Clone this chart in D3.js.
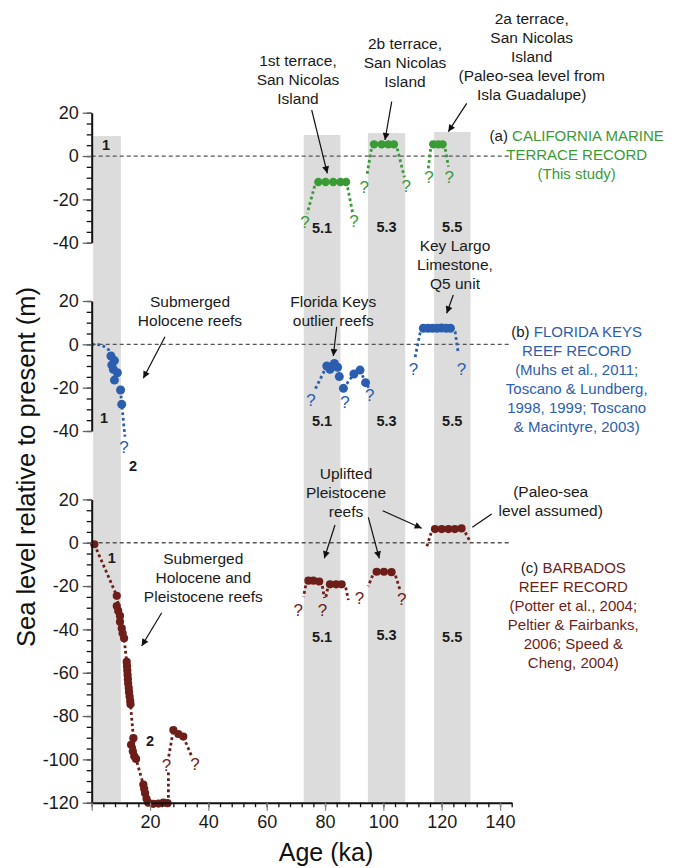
<!DOCTYPE html>
<html>
<head>
<meta charset="utf-8">
<script src="https://cdn.jsdelivr.net/npm/d3@7"></script>
<style>
  body { margin: 0; background: #fff; }
  text { font-family: "Liberation Sans", Arial, Helvetica, sans-serif; }
</style>
</head>
<body>
<div id="chart"></div>
<script>

// ---- data (ka, m) ----
var xDomain = [0, 144];
var panelDomains = [[-40, 20], [-40, 20], [-120, 20]];

// MIS stage bands; top given in m on the panel (a) scale
var bandNames = ["1", "5.1", "5.3", "5.5"];
var bandStart = [0.5, 72.7, 94.7, 117.4];
var bandEnd = [10, 85.3, 107.5, 129.9];
var bandTop = [9.2, 9.7, 10.6, 11.1];

// (a) California marine terraces
var caliDots = [[77.7, -12], [80.2, -12], [82.8, -12], [85.3, -12], [87.2, -12],
  [96.8, 5.4], [99.4, 5.4], [101.7, 5.4], [103.6, 5.4],
  [117.1, 5.4], [118.8, 5.4], [120.3, 5.4]];
var caliLines = [
  [[77.7, -12], [76.6, -13], [73.9, -26.5]],
  [[87.2, -12], [87.6, -13.5], [89.5, -26.5]],
  [[96.8, 5.4], [96, 4.3], [94.3, -9.5]],
  [[103.6, 5.4], [104.6, 4.3], [107.2, -9.8]],
  [[117.1, 5.4], [116.3, 4.3], [115.4, -5.7]],
  [[120.3, 5.4], [121.1, 4.3], [122.3, -4.9]]
];
var caliQs = [[73.1, -30.3], [89.9, -30], [93.4, -14.2], [107.8, -13.8], [115.6, -9.8], [122.6, -9.5]];

// (b) Florida Keys reefs
var floridaDots = [[6.6, -5.4], [7.8, -7.5], [6.9, -9.5], [7.4, -11.5], [8.8, -13.1], [7.8, -16.5], [9.9, -21.1], [10.3, -27.7],
  [80.6, -10], [81.7, -11.5], [83.2, -8.8], [84.3, -10.6], [84.9, -14.9], [86.3, -20.3], [89.9, -13.7], [92, -11.9], [93.9, -17.7],
  [113.7, 7.4], [115.3, 7.4], [116.8, 7.4], [118.4, 7.4], [119.9, 7.5], [121.5, 7.4], [123, 7.4]];
var floridaLines = [
  [[0, 0], [3.5, -0.3], [5.8, -2.5], [6.6, -5.4]],
  [[9.9, -21.1], [10.3, -27.7], [11.4, -42.6]],
  [[80.6, -10], [76.3, -21.5]],
  [[86.3, -20.3], [89.9, -13.7]],
  [[92, -11.9], [93.9, -17.7], [95.2, -20.5]],
  [[113.7, 7.4], [112.8, 6.6], [110.8, -6.5]],
  [[123, 7.4], [124.6, 5.8], [125.7, -4.2]]
];
var floridaQs = [[11.1, -47.5], [75.2, -25.5], [86.8, -26.5], [95.3, -23.5], [110.3, -11.3], [126.8, -11.3]];

// (c) Barbados reefs
var barbadosDots = [[0.9, -0.7],
  [8.6, -24.5], [8.6, -29.2], [9.1, -31.5], [9.7, -33.8], [9.7, -36.5], [10.3, -39.5], [10.6, -41.8], [11.1, -44.1],
  [12.0, -55], [12.1, -57], [12.2, -59], [12.3, -61], [12.4, -63], [12.5, -65], [12.7, -67], [12.8, -69], [13.0, -71], [13.2, -73], [13.3, -74.5],
  [14.3, -90.2], [13.5, -93.3], [14.1, -96.3], [14.6, -98.6], [15.2, -99.8],
  [17.7, -111.6], [18, -113.6], [18.3, -115.6], [18.8, -118.2], [19.4, -120],
  [21.1, -120.5], [22.9, -120.4], [24.6, -120], [26, -120.2],
  [28, -86.5], [29.7, -88.3], [31.4, -89.5],
  [74.3, -17.5], [76, -17.5], [78, -17.9], [81.7, -19.2], [83.8, -19.2], [85.7, -19.2],
  [97.7, -13.4], [100.2, -13.4], [102.8, -13.6],
  [117.7, 6.3], [120, 6.3], [122.3, 6.3], [124.5, 6.3], [126.8, 6.6]];
var barbadosLines = [
  [[0.9, -0.7], [8.6, -24.5], [11.1, -44.1], [12.0, -55], [13.3, -74.5], [14.3, -90.2], [15.2, -99.8], [17.7, -111.6], [19.4, -120], [26, -120.2], [26.3, -120], [26.3, -105.5]],
  [[26.4, -98.7], [28, -86.5], [31.4, -89.5], [34.3, -98.7]],
  [[74.3, -17.5], [73.5, -19], [72.6, -25]],
  [[78, -17.9], [79, -19.5], [79.8, -25.5]],
  [[80.3, -25], [81.1, -19.8], [81.7, -19.2]],
  [[85.7, -19.2], [87, -20], [88, -26.4]],
  [[97.7, -13.4], [96.5, -14.5], [94.8, -20.1]],
  [[102.8, -13.6], [104, -14.5], [105.9, -22.6]],
  [[117.7, 6.3], [116.5, 5], [114.8, -2.1]],
  [[126.8, 6.6], [128, 5], [129.9, 0]]
];
var barbadosQs = [[25.6, -102.5], [35.4, -102], [70.8, -31], [79.1, -31], [91.8, -25.7], [106.3, -26.1]];

// stage numbers written inside the plots: [panel, text, ka, m of baseline]
var stageLabels = [
  [0, "1", 4.9, 2.8], [0, "5.1", 79, -35.5], [0, "5.3", 101.1, -34.9], [0, "5.5", 123.6, -34.9],
  [1, "1", 4.2, -36.5], [1, "2", 14.2, -58.5], [1, "5.1", 79, -37.9], [1, "5.3", 101.1, -37.9], [1, "5.5", 123.6, -37.9],
  [2, "1", 6.9, -9.5], [2, "2", 20, -93.8], [2, "5.1", 79, -45.6], [2, "5.3", 101.1, -44.7], [2, "5.5", 123.6, -45.6]
];

var green = "#3a9a36", blue = "#2c5eb0", red = "#6e1e19";

// ---- layout ----
var svgWidth = 683;
var svgHeight = 868;
var plotLeft = 91.7, plotRight = 511.7;
var panelRanges = [[242.7, 112.7], [431, 301], [802.7, 499.4]];
var plotBottom = panelRanges[2][0];

var svg = d3.select("#chart")
  .append("svg")
  .attr("width", svgWidth)
  .attr("height", svgHeight);

var defs = svg.append("defs");
defs.append("marker")
  .attr("id", "head")
  .attr("viewBox", "0 0 10 10")
  .attr("refX", 10).attr("refY", 5)
  .attr("markerWidth", 9).attr("markerHeight", 7)
  .attr("markerUnits", "userSpaceOnUse")
  .attr("orient", "auto")
  .append("path")
  .attr("d", "M0,0 L10,5 L0,10 z")
  .attr("fill", "#111");

var x = d3.scaleLinear().domain(xDomain).range([plotLeft, plotRight]);
var yScales = panelDomains.map(function(d, i) {
  return d3.scaleLinear().domain(d).range(panelRanges[i]);
});

// grey stage bands
svg.append("g").selectAll("rect")
  .data(bandNames)
  .enter()
  .append("rect")
  .attr("x", (d, i) => x(bandStart[i]))
  .attr("width", (d, i) => x(bandEnd[i]) - x(bandStart[i]))
  .attr("y", (d, i) => yScales[0](bandTop[i]))
  .attr("height", (d, i) => plotBottom - yScales[0](bandTop[i]))
  .attr("fill", "#dcdcdc");

// present-day sea level
yScales.forEach(function(y) {
  svg.append("line")
    .attr("x1", x(0)).attr("x2", x(xDomain[1]))
    .attr("y1", y(0)).attr("y2", y(0))
    .attr("stroke", "#555")
    .attr("stroke-width", 1.3)
    .attr("stroke-dasharray", "4,3");
});

var series = [
  { panel: 0, dots: caliDots, lines: caliLines, qs: caliQs, color: green, r: 4.2 },
  { panel: 1, dots: floridaDots, lines: floridaLines, qs: floridaQs, color: blue, r: 4.5 },
  { panel: 2, dots: barbadosDots, lines: barbadosLines, qs: barbadosQs, color: red, r: 4.1 }
];

series.forEach(function(s) {
  var y = yScales[s.panel];
  var line = d3.line().x(d => x(d[0])).y(d => y(d[1]));
  var g = svg.append("g");

  g.selectAll("path")
    .data(s.lines)
    .enter()
    .append("path")
    .attr("d", line)
    .attr("fill", "none")
    .attr("stroke", s.color)
    .attr("stroke-width", 2.8)
    .attr("stroke-dasharray", "2.8,2.8");

  g.selectAll("circle")
    .data(s.dots)
    .enter()
    .append("circle")
    .attr("cx", d => x(d[0]))
    .attr("cy", d => y(d[1]))
    .attr("r", s.r)
    .attr("fill", s.color);

  g.selectAll("text")
    .data(s.qs)
    .enter()
    .append("text")
    .attr("x", d => x(d[0]))
    .attr("y", d => y(d[1]) + 6)
    .attr("text-anchor", "middle")
    .attr("font-size", "17px")
    .attr("fill", s.color)
    .text("?");
});

// stage numbers
svg.append("g").selectAll("text")
  .data(stageLabels)
  .enter()
  .append("text")
  .attr("x", d => x(d[2]))
  .attr("y", d => yScales[d[0]](d[3]))
  .attr("text-anchor", "middle")
  .attr("font-size", "14.5px")
  .attr("font-weight", "bold")
  .attr("fill", "#1a1a1a")
  .text(d => d[1]);

// y axes, one per panel
yScales.forEach(function(y) {
  var dom = y.domain();
  var ax = svg.append("g").attr("transform", `translate(${plotLeft},0)`);
  ax.append("g")
    .call(d3.axisLeft(y).tickValues(d3.range(dom[0], dom[1] + 1, 5)).tickSize(5).tickSizeOuter(0).tickFormat(""))
    .call(g => g.select(".domain").remove())
    .selectAll("line").attr("stroke", "#111").attr("stroke-width", 1.3);
  ax.append("g")
    .call(d3.axisLeft(y).tickValues(d3.range(dom[0], dom[1] + 1, 20)).tickSize(9).tickSizeOuter(0).tickPadding(4).tickFormat(d => d))
    .call(g => g.select(".domain").attr("stroke", "#111").attr("stroke-width", 2))
    .call(g => g.selectAll(".tick line").attr("stroke", "#666").attr("stroke-width", 1.3))
    .call(g => g.selectAll("text").attr("font-size", "18px").attr("fill", "#1a1a1a")
      .style("font-family", '"Liberation Sans", Arial, sans-serif'));
});

// x axis
var xAxisG = svg.append("g").attr("transform", `translate(0,${plotBottom})`);
xAxisG.append("g")
  .call(d3.axisBottom(x).tickValues(d3.range(0, 145, 4)).tickSize(4.5).tickSizeOuter(0).tickFormat(""))
  .call(g => g.select(".domain").remove())
  .selectAll("line").attr("stroke", "#111").attr("stroke-width", 1.3);
xAxisG.append("g")
  .call(d3.axisBottom(x).tickValues(d3.range(0, 141, 20)).tickSize(8).tickSizeOuter(0).tickPadding(4.5)
    .tickFormat(d => d === 0 ? "" : d))
  .call(g => g.select(".domain").attr("stroke", "#111").attr("stroke-width", 2))
  .call(g => g.selectAll(".tick line").attr("stroke", "#888").attr("stroke-width", 1.3))
  .call(g => g.selectAll("text").attr("font-size", "18px").attr("fill", "#1a1a1a")
    .style("font-family", '"Liberation Sans", Arial, sans-serif'));

// axis titles
svg.append("text")
  .attr("transform", "translate(35,467) rotate(-90)")
  .attr("text-anchor", "middle")
  .attr("font-size", "25.5px")
  .attr("fill", "#111")
  .text("Sea level relative to present (m)");

svg.append("text")
  .attr("x", 326)
  .attr("y", 860.5)
  .attr("text-anchor", "middle")
  .attr("font-size", "25px")
  .attr("fill", "#111")
  .text("Age (ka)");

// annotations
function block(lines, cx, y0, size, color) {
  var t = svg.append("text")
    .attr("text-anchor", "middle")
    .attr("font-size", size)
    .attr("fill", color || "#1a1a1a");
  lines.forEach(function(l, i) {
    var ts = t.append("tspan").attr("x", cx).attr("y", y0 + i * 19);
    if (Array.isArray(l)) {
      ts.append("tspan").attr("fill", "#1a1a1a").text(l[0]);
      ts.append("tspan").text(l[1]);
    } else {
      ts.text(l);
    }
  });
}

block(["1st terrace,", "San Nicolas", "Island"], 298, 65.5, "15.5px");
block(["2b terrace,", "San Nicolas", "Island"], 405, 49, "15.5px");
block(["2a terrace,", "San Nicolas", "Island", "(Paleo-sea level from", "Isla Guadalupe)"], 531.7, 24, "15.5px");
block([["(a) ", "CALIFORNIA MARINE"], "TERRACE RECORD", "(This study)"], 576.7, 140.5, "15px", green);

block(["Submerged", "Holocene reefs"], 190, 307, "15.5px");
block(["Florida Keys", "outlier reefs"], 333.3, 307, "15.5px");
block(["Key Largo", "Limestone,", "Q5 unit"], 455, 250.5, "15.5px");
block([["(b) ", "FLORIDA KEYS"], "REEF RECORD", "(Muhs et al., 2011;", "Toscano & Lundberg,", "1998, 1999; Toscano", "& Macintyre, 2003)"],
  576.7, 337, "15px", blue);

block(["Submerged", "Holocene and", "Pleistocene reefs"], 203.3, 564, "15.5px");
block(["Uplifted", "Pleistocene", "reefs"], 346, 479, "15.5px");
block(["(Paleo-sea", "level assumed)"], 550.7, 497, "15.5px");
block([["(c) ", "BARBADOS"], "REEF RECORD", "(Potter et al., 2004;", "Peltier & Fairbanks,", "2006; Speed &", "Cheng, 2004)"],
  573.3, 573, "15px", red);

var arrows = [
  [311.7, 110, 327.3, 173.3, true],
  [391.7, 101.7, 385, 140, true],
  [466.7, 103.3, 448.3, 131.7, true],
  [165, 336.7, 143.3, 378.3, true],
  [336.7, 326.7, 333.3, 356, true],
  [453.3, 295, 446.7, 313.3, true],
  [161.7, 612.7, 141.7, 646, true],
  [335, 525, 324.3, 558.3, true],
  [368.3, 517.3, 379.3, 558.3, true],
  [382.7, 510.7, 421.7, 528.3, true],
  [491.7, 514, 472.3, 527.3, false]
];
svg.append("g").selectAll("line")
  .data(arrows)
  .enter()
  .append("line")
  .attr("x1", d => d[0]).attr("y1", d => d[1])
  .attr("x2", d => d[2]).attr("y2", d => d[3])
  .attr("stroke", "#111")
  .attr("stroke-width", 1.2)
  .attr("marker-end", d => d[4] ? "url(#head)" : null);

</script>
</body>
</html>
